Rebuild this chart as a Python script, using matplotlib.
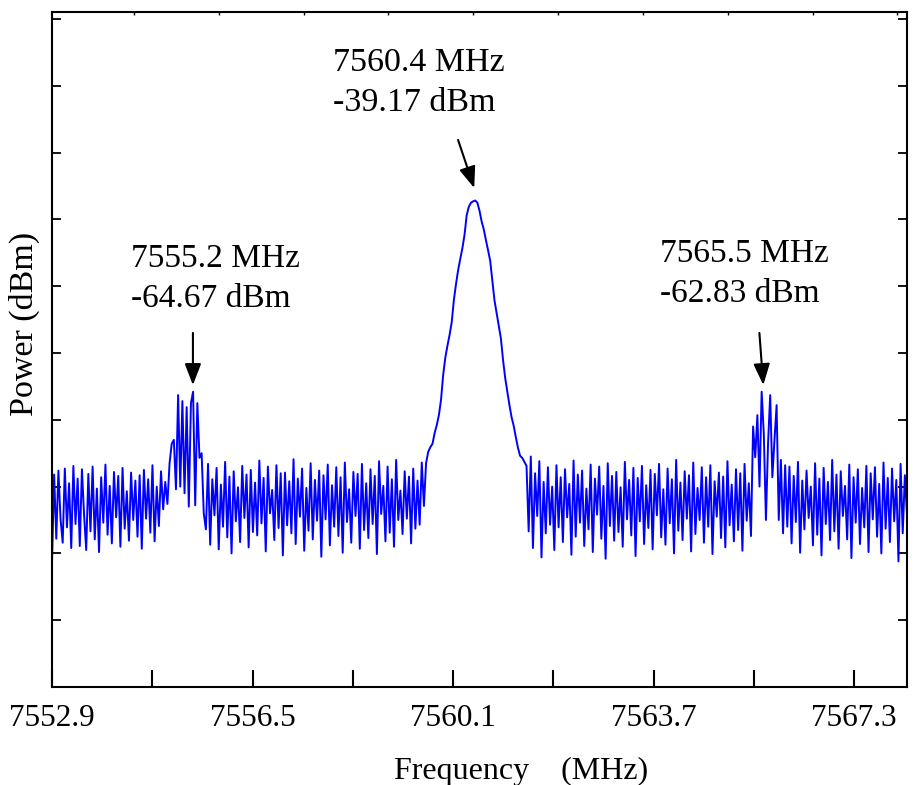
import numpy as np
import matplotlib
matplotlib.use("Agg")
import matplotlib.pyplot as plt

plt.rcParams["font.family"] = ["Liberation Serif", "DejaVu Serif"]

# analyzer sweep: 401 points between start and stop frequency
f_start = 7552.9
f_stop = 7568.25

noise_left = [
    -93.5, -80.2, -89.8, -79.6, -86.9, -90.4, -79.3, -88.1, -81.5, -91.2,
    -78.9, -87.6, -80.8, -90.9, -79.4, -86.2, -91.5, -80.1, -88.7, -79.0,
    -89.9, -82.3, -91.8, -80.6, -87.4, -78.7, -89.2, -81.9, -90.5, -79.8,
    -86.6, -80.4, -91.0, -79.2, -88.3, -82.7, -90.1, -79.9, -87.0, -81.1,
    -89.5, -80.3, -91.3, -79.5, -86.8, -80.9, -88.9, -78.8, -90.2, -82.0,
    -87.9, -79.7, -85.4, -81.3, -84.6,
]

spur_left = [
    -78.5, -75.6, -75.0, -82.4, -68.3, -82.0, -69.2, -83.0, -70.1, -85.0,
    -69.5, -67.8, -84.8, -69.5, -77.7, -77.0, -86.0,
]

noise_mid = [
    -88.4, -78.6, -90.7, -80.9, -86.3, -79.2, -91.4, -81.7, -88.0, -78.3,
    -89.6, -80.5, -92.0, -79.7, -87.2, -82.1, -90.3, -78.9, -86.7, -80.2,
    -91.1, -79.5, -88.8, -81.4, -89.3, -78.1, -87.5, -80.7, -91.7, -79.0,
    -86.0, -82.5, -90.0, -78.8, -88.2, -80.0, -92.3, -79.9, -87.8, -81.2,
    -89.0, -77.9, -90.6, -80.8, -86.5, -79.3, -91.6, -82.2, -88.6, -78.5,
    -89.9, -81.0, -87.1, -79.6, -92.5, -80.3, -86.9, -78.7, -90.8, -81.8,
    -88.0, -79.1, -89.4, -80.6, -91.9, -78.4, -87.3, -82.4, -90.4, -79.8,
    -86.4, -80.1, -91.3, -78.6, -88.5, -81.5, -89.7, -79.4, -87.6, -80.4,
    -92.1, -78.2, -86.1, -81.9, -90.2, -79.0, -88.9, -80.9, -91.0, -78.0,
    -87.0, -82.6, -89.1, -79.7, -86.8, -80.5, -90.5, -79.3, -88.3, -81.1,
    -87.7, -78.4, -84.9,
]

carrier = [
    -78.5, -76.8, -76.1, -75.6, -74.0, -72.8, -71.3, -69.0, -65.3, -62.7,
    -60.9, -59.3, -57.4, -54.1, -51.7, -49.6, -47.9, -46.3, -44.3, -41.4,
    -40.1, -39.5, -39.3, -39.17, -39.5, -40.7, -42.3, -43.5, -45.1, -46.6,
    -48.2, -51.1, -54.1, -56.0, -58.0, -59.8, -63.0, -65.7, -67.8, -69.8,
    -71.6, -72.9, -74.6, -76.2, -77.4, -77.7, -78.3, -78.9,
]

noise_right = [
    -88.7, -77.5, -91.2, -80.0, -86.4, -78.2, -92.6, -81.3, -89.0, -79.1,
    -87.7, -82.0, -91.5, -78.8, -88.1, -80.6, -90.3, -79.4, -86.6, -81.6,
    -92.2, -78.1, -89.5, -80.2, -87.4, -79.6, -90.9, -82.3, -88.4, -78.7,
    -91.8, -80.8, -86.2, -79.0, -89.8, -81.9, -92.8, -78.5, -87.9, -80.4,
    -90.1, -79.8, -88.8, -82.1, -91.0, -78.3, -86.9, -81.0, -89.3, -79.2,
    -92.4, -80.7, -87.2, -78.9, -90.6, -81.8, -88.2, -79.5, -91.4, -80.1,
    -86.3, -78.6, -89.6, -82.4, -90.7, -79.3, -87.5, -80.9, -92.0, -78.0,
    -88.6, -81.4, -90.0, -79.7, -86.8, -80.3, -91.7, -78.4, -89.1, -82.2,
    -87.0, -79.1, -90.4, -80.6, -88.0, -78.8, -92.1, -81.2, -86.5, -79.9,
    -89.7, -80.5, -91.1, -78.2, -87.8, -81.7, -90.2, -79.4, -88.5, -80.0,
    -91.6, -78.6, -87.1, -81.5, -89.4, -73.0,
]

spur_right = [
    -77.6, -71.3, -82.0, -67.8, -74.0, -87.0, -75.5, -68.3, -80.6, -75.0,
    -69.8, -87.0, -78.0, -89.0, -78.8, -88.0,
]

noise_end = [
    -79.0, -90.5, -80.4, -87.3, -78.3, -91.9, -81.1, -88.4, -79.6, -86.7,
    -82.0, -90.8, -78.5, -89.2, -80.8, -92.3, -79.2, -87.6, -81.3, -90.0,
    -78.0, -88.7, -80.2, -91.3, -79.7, -86.4, -81.9, -89.9, -78.7, -92.7,
    -80.6, -87.4, -79.4, -90.6, -82.2, -88.1, -78.9, -91.8, -80.0, -86.9,
    -79.1, -89.5, -81.6, -92.0, -78.4, -88.3, -80.7, -90.3, -79.3, -87.2,
    -81.0, -93.2, -78.6, -89.0, -80.3, -86.2,
]

power = np.array(noise_left + spur_left + noise_mid + carrier
                 + noise_right + spur_right + noise_end)
freq = np.linspace(f_start, f_stop, len(power))

# marker readouts
marker_text = ["7555.2 MHz\n-64.67 dBm", "7560.4 MHz\n-39.17 dBm",
               "7565.5 MHz\n-62.83 dBm"]

bottom_ticks = [7552.9 + 1.8 * k for k in range(9)]
bottom_labels = ["7552.9", "", "7556.5", "", "7560.1", "", "7563.7", "", "7567.3"]
top_ticks = [7554.37 + 1.523 * k for k in range(10)]
y_ticks = [-112 + 10 * k for k in range(11)]

fig = plt.figure(figsize=(9.17, 7.85), dpi=100)
ax = fig.add_axes([52 / 917, 1 - 687 / 785, 855 / 917, 675 / 785])

ax.plot(freq, power, color="#0000ff", linewidth=1.4)

ax.set_xlim(f_start, f_stop)
ax.set_ylim(-112, -112 + 675 / 6.68)

ax.set_xticks(bottom_ticks)
ax.set_xticklabels(bottom_labels)
ax.set_yticks(y_ticks)
ax.set_yticklabels([])

ax.tick_params(axis="x", direction="in", length=12, width=1.5,
               labelsize=22.5, pad=12)
ax.tick_params(axis="y", direction="in", length=6.5, width=1.3,
               left=True, right=True)

top = ax.secondary_xaxis("top")
top.set_xticks(top_ticks)
top.set_xticklabels([])
top.tick_params(direction="in", length=2.5, width=1.0)
top.spines["top"].set_visible(False)

for sp in ax.spines.values():
    sp.set_linewidth(1.5)

ax.set_xlabel("Frequency    (MHz)", fontsize=23)
ax.xaxis.set_label_coords(0.5485, -0.104)
ax.set_ylabel("Power (dBm)", fontsize=24.5)
ax.yaxis.set_label_coords(-0.014, 0.538)

# arrows and text for the three markers
arrow_style = dict(arrowstyle="-|>,head_length=0.65,head_width=0.25",
                   mutation_scale=20, color="black", lw=1.5,
                   shrinkA=0, shrinkB=0)

ax.annotate("", xy=(7560.48, -37.3), xytext=(7560.19, -30.1),
            arrowprops=arrow_style)
ax.annotate("", xy=(7555.43, -66.8), xytext=(7555.43, -59.0),
            arrowprops=arrow_style)
ax.annotate("", xy=(7565.67, -66.8), xytext=(7565.6, -59.0),
            arrowprops=arrow_style)

ax.text(7554.32, -50.9, marker_text[0], fontsize=24, ha="left", va="center",
        linespacing=1.4)
ax.text(7557.95, -21.6, marker_text[1], fontsize=24.5, ha="left", va="center",
        linespacing=1.4)
ax.text(7563.82, -50.2, marker_text[2], fontsize=24, ha="left", va="center",
        linespacing=1.4)

fig.savefig("out.png", dpi=100)
